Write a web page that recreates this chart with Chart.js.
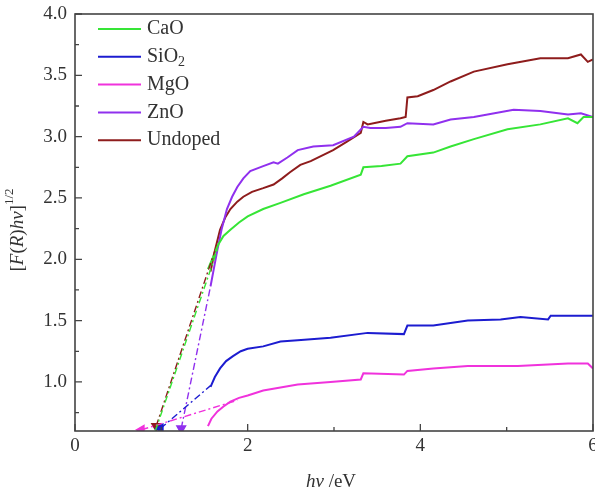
<!DOCTYPE html>
<html>
<head>
<meta charset="utf-8">
<script src="https://cdn.jsdelivr.net/npm/chart.js@4.4.0/dist/chart.umd.min.js"></script>
<style>
  html, body { margin: 0; padding: 0; background: #fff; }
  #wrap { width: 595px; height: 495px; }
</style>
</head>
<body>
<div id="wrap"><canvas id="gapChart"></canvas></div>
<script>
// hv (eV) and [F(R)hv]^1/2
const caoX = [1.54, 1.60, 1.66, 1.72, 1.80, 1.90, 2.00, 2.18, 2.38, 2.65, 2.96, 3.31, 3.34, 3.55, 3.77, 3.85, 4.15, 4.35, 4.62, 5.01, 5.39, 5.71, 5.82, 5.89, 6.0];
const caoY = [1.92, 2.02, 2.12, 2.19, 2.24, 2.30, 2.35, 2.41, 2.46, 2.53, 2.60, 2.69, 2.75, 2.76, 2.78, 2.84, 2.87, 2.92, 2.98, 3.06, 3.10, 3.15, 3.11, 3.16, 3.16];

const sio2X = [1.57, 1.62, 1.68, 1.75, 1.83, 1.92, 2.00, 2.18, 2.38, 2.58, 2.96, 3.39, 3.81, 3.85, 4.15, 4.55, 4.93, 5.16, 5.48, 5.51, 6.0];
const sio2Y = [0.96, 1.04, 1.11, 1.17, 1.21, 1.25, 1.27, 1.29, 1.33, 1.34, 1.36, 1.40, 1.39, 1.46, 1.46, 1.50, 1.51, 1.53, 1.51, 1.54, 1.54];

const mgoX = [1.54, 1.58, 1.65, 1.72, 1.80, 1.90, 2.00, 2.18, 2.58, 2.96, 3.31, 3.34, 3.81, 3.85, 4.15, 4.55, 5.13, 5.71, 5.94, 6.0];
const mgoY = [0.64, 0.70, 0.76, 0.80, 0.84, 0.87, 0.89, 0.93, 0.98, 1.00, 1.02, 1.07, 1.06, 1.09, 1.11, 1.13, 1.13, 1.15, 1.15, 1.11];

const znoX = [1.57, 1.61, 1.65, 1.70, 1.76, 1.82, 1.88, 1.95, 2.03, 2.18, 2.30, 2.35, 2.46, 2.58, 2.76, 2.99, 3.23, 3.34, 3.42, 3.60, 3.77, 3.85, 4.15, 4.35, 4.62, 5.08, 5.39, 5.71, 5.86, 6.0];
const znoY = [1.78, 1.93, 2.08, 2.25, 2.41, 2.51, 2.59, 2.66, 2.72, 2.76, 2.79, 2.78, 2.83, 2.89, 2.92, 2.93, 3.00, 3.08, 3.07, 3.07, 3.08, 3.11, 3.10, 3.14, 3.16, 3.22, 3.21, 3.18, 3.19, 3.16];

const undopedX = [1.57, 1.62, 1.68, 1.74, 1.80, 1.88, 1.95, 2.05, 2.18, 2.30, 2.40, 2.49, 2.61, 2.73, 2.99, 3.15, 3.31, 3.34, 3.39, 3.60, 3.77, 3.83, 3.85, 3.97, 4.15, 4.35, 4.62, 5.01, 5.39, 5.71, 5.86, 5.94, 6.0];
const undopedY = [1.90, 2.07, 2.24, 2.34, 2.41, 2.47, 2.51, 2.55, 2.58, 2.61, 2.66, 2.71, 2.77, 2.80, 2.89, 2.96, 3.03, 3.12, 3.10, 3.13, 3.15, 3.16, 3.32, 3.33, 3.38, 3.45, 3.53, 3.59, 3.64, 3.64, 3.67, 3.61, 3.63];

// tangent (band-gap) lines: [x0, y0, x1, y1]
const caoFit = [0.93, 0.60, 1.65, 2.08];
const sio2Fit = [0.99, 0.62, 1.57, 0.97];
const mgoFit = [0.77, 0.61, 1.88, 0.85];
const znoFit = [1.23, 0.62, 1.57, 1.78];
const undopedFit = [0.94, 0.64, 1.62, 2.07];

const seriesNames = ["CaO", "SiO₂", "MgO", "ZnO", "Undoped"];
const seriesColors = ["#36e536", "#1c1cd0", "#f032dc", "#9030ee", "#8e1c1c"];

const xTicks = [0, 2, 4, 6];
const xMinor = [1, 3, 5];
const yTicks = [1.0, 1.5, 2.0, 2.5, 3.0, 3.5, 4.0];
const yMinor = [0.75, 1.25, 1.75, 2.25, 2.75, 3.25, 3.75];

const FONT = "'Liberation Serif', 'DejaVu Serif', serif";
const INK = "#333333";

function pts(xs, ys) {
  return xs.map((x, i) => ({ x: x, y: ys[i] }));
}

const curves = [
  pts(caoX, caoY),
  pts(sio2X, sio2Y),
  pts(mgoX, mgoY),
  pts(znoX, znoY),
  pts(undopedX, undopedY),
];
const fits = [caoFit, sio2Fit, mgoFit, znoFit, undopedFit];
const markerRot = [0, 270, 270, 180, 180];

const datasets = [];
fits.forEach((f, i) => {
  datasets.push({
    label: "",
    data: [{ x: f[0], y: f[1] }, { x: f[2], y: f[3] }],
    borderColor: seriesColors[i],
    backgroundColor: seriesColors[i],
    borderWidth: 1.4,
    borderDash: [7, 3, 2, 3],
    pointStyle: "triangle",
    pointRadius: [i === 0 ? 0 : 5, 0],
    pointRotation: markerRot[i],
    tension: 0,
  });
});
curves.forEach((c, i) => {
  datasets.push({
    label: seriesNames[i],
    data: c,
    borderColor: seriesColors[i],
    borderWidth: 2,
    pointRadius: 0,
    tension: 0,
  });
});

// frame, inward ticks, x tick labels, axis titles and legend
const decor = {
  id: "decor",
  afterDraw(chart) {
    const ctx = chart.ctx;
    const a = chart.chartArea;
    const xs = chart.scales.x;
    const ys = chart.scales.y;
    ctx.save();
    ctx.strokeStyle = "#444";
    ctx.lineWidth = 1.6;
    ctx.strokeRect(a.left, a.top, a.right - a.left, a.bottom - a.top);

    ctx.lineWidth = 1.3;
    ctx.beginPath();
    xTicks.forEach(v => {
      const p = xs.getPixelForValue(v);
      ctx.moveTo(p, a.bottom); ctx.lineTo(p, a.bottom - 7);
    });
    xMinor.forEach(v => {
      const p = xs.getPixelForValue(v);
      ctx.moveTo(p, a.bottom); ctx.lineTo(p, a.bottom - 4);
    });
    yTicks.forEach(v => {
      const p = ys.getPixelForValue(v);
      ctx.moveTo(a.left, p); ctx.lineTo(a.left + 7, p);
    });
    yMinor.forEach(v => {
      const p = ys.getPixelForValue(v);
      ctx.moveTo(a.left, p); ctx.lineTo(a.left + 4, p);
    });
    ctx.stroke();

    ctx.fillStyle = INK;
    ctx.textBaseline = "middle";
    ctx.textAlign = "center";
    ctx.font = "19px " + FONT;
    xTicks.forEach(v => {
      ctx.fillText(String(v), xs.getPixelForValue(v), a.bottom + 15);
    });

    // x title: hν /eV
    ctx.textAlign = "left";
    const xParts = [["italic", "hν"], ["normal", " /eV"]];
    let w = 0;
    xParts.forEach(p => { ctx.font = p[0] + " 19px " + FONT; w += ctx.measureText(p[1]).width; });
    let cx = 331 - w / 2;
    xParts.forEach(p => {
      ctx.font = p[0] + " 19px " + FONT;
      ctx.fillText(p[1], cx, 482);
      cx += ctx.measureText(p[1]).width;
    });

    // y title: [F(R)hν]^1/2
    ctx.save();
    ctx.translate(18, 230);
    ctx.rotate(-Math.PI / 2);
    const yParts = [["normal", "[", 19, 0], ["italic", "F", 19, 0], ["normal", "(", 19, 0], ["italic", "R", 19, 0],
      ["normal", ")", 19, 0], ["italic", "hν", 19, 0], ["normal", "]", 19, 0], ["normal", "1/2", 13, -8]];
    w = 0;
    yParts.forEach(p => { ctx.font = p[0] + " " + p[2] + "px " + FONT; w += ctx.measureText(p[1]).width; });
    cx = -w / 2;
    yParts.forEach(p => {
      ctx.font = p[0] + " " + p[2] + "px " + FONT;
      ctx.fillText(p[1], cx, p[3]);
      cx += ctx.measureText(p[1]).width;
    });
    ctx.restore();

    // legend
    seriesNames.forEach((name, i) => {
      const y = 29 + i * 27.8;
      ctx.strokeStyle = seriesColors[i];
      ctx.lineWidth = 2;
      ctx.beginPath();
      ctx.moveTo(98, y); ctx.lineTo(141, y);
      ctx.stroke();
      ctx.fillStyle = INK;
      ctx.font = "20px " + FONT;
      if (name.indexOf("₂") >= 0) {
        const base = name.replace("₂", "");
        ctx.fillText(base, 147, y);
        const bw = ctx.measureText(base).width;
        ctx.font = "14px " + FONT;
        ctx.fillText("2", 147 + bw, y + 6);
      } else {
        ctx.fillText(name, 147, y);
      }
    });
    ctx.restore();
  },
};

new Chart(document.getElementById("gapChart"), {
  type: "line",
  data: { datasets: datasets },
  options: {
    responsive: true,
    maintainAspectRatio: false,
    animation: false,
    layout: { autoPadding: false, padding: { top: 14, right: 2, left: 0, bottom: 0 } },
    plugins: {
      legend: { display: false },
      tooltip: { enabled: false },
    },
    scales: {
      x: {
        type: "linear",
        min: 0,
        max: 6,
        grid: { display: false, drawTicks: false },
        border: { display: false },
        afterBuildTicks: s => { s.ticks = xTicks.map(v => ({ value: v })); },
        afterFit: s => { s.height = 64; },
        ticks: { display: false },
      },
      y: {
        type: "linear",
        min: 0.6,
        max: 4.0,
        grid: { display: false, drawTicks: false },
        border: { display: false },
        afterBuildTicks: s => { s.ticks = yTicks.map(v => ({ value: v })); },
        afterFit: s => { s.width = 75; s.paddingTop = 0; s.paddingBottom = 0; },
        ticks: {
          padding: 8,
          color: INK,
          font: { family: FONT, size: 19 },
          callback: v => v.toFixed(1),
        },
      },
    },
  },
  plugins: [decor],
});
</script>
</body>
</html>
